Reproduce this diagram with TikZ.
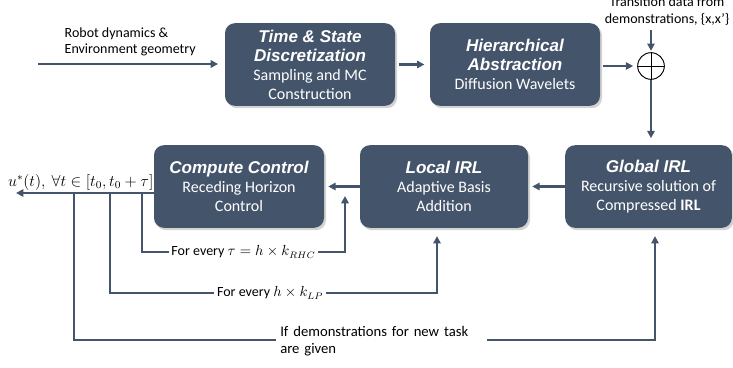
\documentclass[tikz,border=0pt]{standalone}
\usepackage{fontspec}
\setmainfont{Carlito}
\newfontfamily\titlefont{Liberation Sans}
\usetikzlibrary{arrows.meta,shadows,calc}
\definecolor{slate}{HTML}{44546A}
\newcommand\ttl[1]{{\titlefont\fontsize{12.8}{14}\selectfont\bfseries\itshape #1}}
\begin{document}
\begin{tikzpicture}[x=0.75pt,y=-0.75pt,
  blk/.style={fill=slate, rounded corners=7.5pt, minimum width=127.5pt, minimum height=62pt,
    text=white, align=center, font=\fontsize{12}{14.2}\selectfont, inner sep=2pt,
    drop shadow={shadow xshift=1.5pt, shadow yshift=-1.8pt, opacity=0.35}},
  arr/.style={draw=slate, line width=1.7pt, -{Triangle[length=5.5pt,width=5.5pt]}},
  lab/.style={font=\fontsize{10.5}{12.5}\selectfont, text=black},
  onl/.style={lab, fill=white, inner xsep=2pt, inner ysep=1pt}
]
\useasboundingbox (0,0) rectangle (733,368);

% top row
\node[blk] (disc) at (310,64.5) {\ttl{Time \& State}\\\ttl{Discretization}\\Sampling and MC\\Construction};
\node[blk] (hier) at (515,64.5) {\ttl{Hierarchical}\\\ttl{Abstraction}\\Diffusion Wavelets};
\node[circle, draw=black, fill=white, line width=0.7pt, minimum size=20pt, inner sep=0pt] (sum) at (651,66) {};
\draw[black, line width=0.7pt] (sum.north) -- (sum.south) (sum.west) -- (sum.east);

% bottom row
\node[blk, minimum width=125pt] (glob) at (648.5,186.5) {\ttl{Global IRL}\\Recursive solution of\\Compressed \textbf{IRL}};
\node[blk, minimum width=126pt] (loc) at (444,186.5) {\ttl{Local IRL}\\Adaptive Basis\\Addition};
\node[blk] (cc) at (239,186.5) {\ttl{Compute Control}\\Receding Horizon\\Control};

% labels
\node[lab, align=left, anchor=west] (robot) at (60,42) {Robot dynamics \&\\Environment geometry};
\node[lab, align=center] (trans) at (667,11) {Transition data from\\demonstrations, \{x,x'\}};

% coordinates
\coordinate (in) at (38,64);
\coordinate (uout) at (16,193);
\coordinate (f1) at (142,193);
\coordinate (f2) at (110,193);
\coordinate (f3) at (74,193);
\coordinate (c1) at (345,252);
\coordinate (e1) at (345,196);
\coordinate (c2) at (437,293);
\coordinate (c3) at (655,340);

% main flow
\draw[arr, shorten >=5pt] (in) -- (in -| disc.west);
\draw[arr, shorten <=3pt, shorten >=4pt] (disc) -- (hier);
\draw[arr, shorten <=2pt, shorten >=3pt] (hier.east |- sum) -- (sum);
\draw[arr, shorten >=1pt] (sum |- trans.south) -- (sum.north);
\draw[arr, shorten >=5pt] (sum.south) -- (sum |- glob.north);
\draw[arr, shorten >=3pt] (glob) -- (loc);
\draw[arr, shorten >=3pt] (loc) -- (cc);
\draw[arr] (cc.west |- uout) -- (uout)
  node[pos=0.53, above=0pt, lab, font=\fontsize{11.6}{13}\selectfont, inner sep=1pt] (ulab) {$u^{*}(t),\ \forall t\in[t_0,t_0+\tau]$};

% feedback loops
\draw[arr] (f1) |- (c1) node[pos=0.75, onl] (l1) {For every $\tau = h\times k_{RHC}$} -- (e1);
\draw[arr, shorten >=6pt] (f2) |- (c2) node[pos=0.745, onl] (l2) {For every $h\times k_{LP}$} -- (c2 |- loc.south);
\draw[arr, shorten >=6pt] (f3) |- (c3) -- (c3 |- glob.south);
\node[lab, font=\fontsize{11}{13}\selectfont, fill=white, anchor=west, align=left, text width=152pt, inner xsep=3pt, inner ysep=0pt] (l3) at (276,341) {If demonstrations for new task\\are given};
\end{tikzpicture}
\end{document}
